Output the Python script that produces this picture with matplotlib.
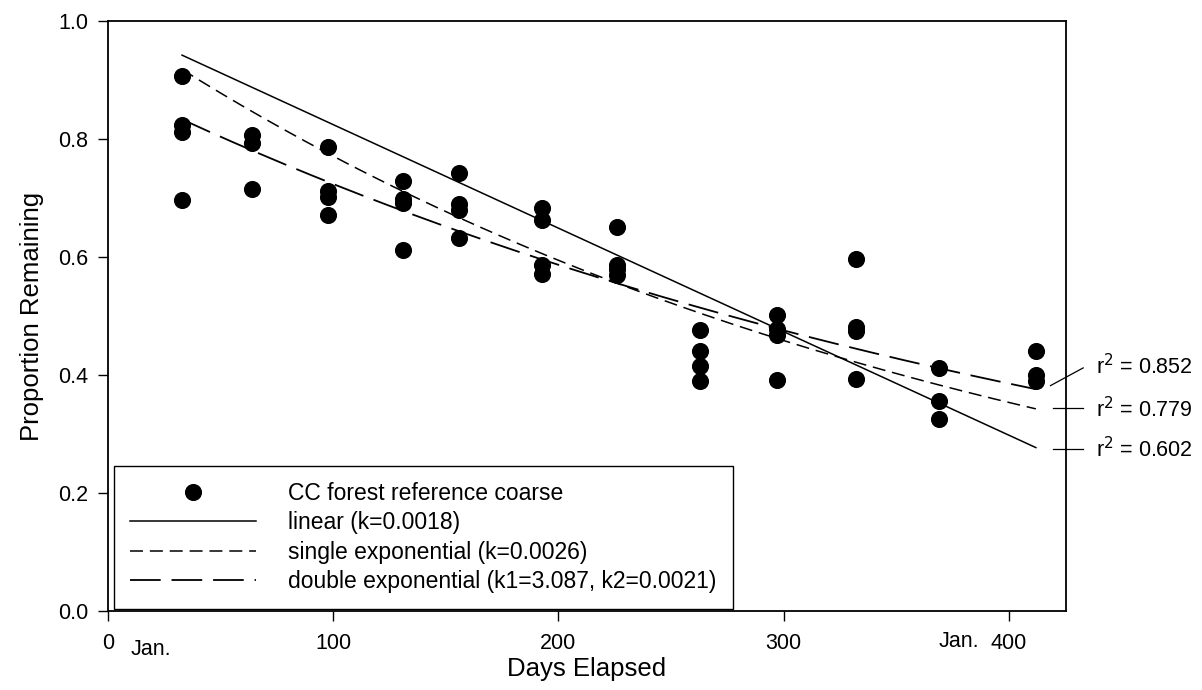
import numpy as np
import matplotlib
matplotlib.use("Agg")
import matplotlib.pyplot as plt

plt.rcParams['font.family'] = ['Liberation Sans', 'DejaVu Sans']

# ---- data ----
days = [33, 33, 33, 33,
        64, 64, 64,
        98, 98, 98, 98,
        131, 131, 131, 131,
        156, 156, 156, 156,
        193, 193, 193, 193,
        226, 226, 226, 226,
        263, 263, 263, 263,
        297, 297, 297, 297,
        332, 332, 332, 332,
        369, 369, 369,
        412, 412, 412]
remaining = [0.907, 0.824, 0.812, 0.697,
             0.807, 0.794, 0.715,
             0.787, 0.711, 0.702, 0.671,
             0.729, 0.699, 0.692, 0.612,
             0.742, 0.690, 0.680, 0.632,
             0.683, 0.662, 0.586, 0.572,
             0.651, 0.587, 0.580, 0.570,
             0.477, 0.441, 0.416, 0.389,
             0.502, 0.478, 0.468, 0.392,
             0.596, 0.482, 0.475, 0.394,
             0.411, 0.356, 0.325,
             0.441, 0.400, 0.390]

# model parameters (fits shown in legend)
k_linear = 0.001755
k_single = 0.0026
k1_double = 3.087
k2_double = 0.0021
b_double = 0.893
fit_range = [33, 412]

r2_labels = ["r$^2$ = 0.852", "r$^2$ = 0.779", "r$^2$ = 0.602"]
legend_labels = ["CC forest reference coarse",
                 "linear (k=0.0018)",
                 "single exponential (k=0.0026)",
                 "double exponential (k1=3.087, k2=0.0021)"]
xticks = [0, 100, 200, 300, 400]
yticks = [0.0, 0.2, 0.4, 0.6, 0.8, 1.0]

# ---- figure ----
fig = plt.figure(figsize=(12.02, 6.90), dpi=100)
ax = fig.add_axes([0.0896, 0.1145, 0.7973, 0.8551])

t = np.linspace(fit_range[0], fit_range[1], 200)
y_lin = 1.0 - k_linear * t
y_single = np.exp(-k_single * t)
y_double = (1 - b_double) * np.exp(-k1_double * t) + b_double * np.exp(-k2_double * t)

ms = 11.3
ax.plot(days, remaining, 'o', color='black', markersize=ms, zorder=3,
        label=legend_labels[0])
ax.plot(t, y_lin, '-', color='black', lw=1.1, label=legend_labels[1])
ax.plot(t, y_single, color='black', lw=1.1, dashes=(8.5, 4.5), label=legend_labels[2])
ax.plot(t, y_double, color='black', lw=1.3, dashes=(17, 6), label=legend_labels[3])

ax.set_xlim(0, 425.4)
ax.set_ylim(0, 1.0)
ax.set_xticks(xticks)
ax.set_xticklabels([str(v) for v in xticks])
ax.set_yticks(yticks)
ax.set_yticklabels([f"{v:.1f}" for v in yticks])
ax.tick_params(direction='out', length=7.2, width=1.0, labelsize=15.5,
               colors='black')
ax.tick_params(axis='x', pad=9)
ax.tick_params(axis='y', pad=7)
for s in ax.spines.values():
    s.set_linewidth(1.3)

ax.set_xlabel("Days Elapsed", fontsize=18.5, labelpad=2)
ax.set_ylabel("Proportion Remaining", fontsize=18.5, labelpad=10)

# month markers
tr = ax.get_xaxis_transform()
ax.text(19, -0.065, "Jan.", transform=tr, ha='center', va='center',
        fontsize=15.5, clip_on=False)
ax.text(378, -0.052, "Jan.", transform=tr, ha='center', va='center',
        fontsize=15.5, clip_on=False)

# r^2 annotations
ax.plot([418.5, 433.0], [0.382, 0.412], color='black', lw=0.9, clip_on=False)
ax.plot([419.5, 433.0], [0.344, 0.344], color='black', lw=0.9, clip_on=False)
ax.plot([419.5, 433.0], [0.275, 0.275], color='black', lw=0.9, clip_on=False)
ax.text(438.5, 0.415, r2_labels[0], fontsize=15.5, va='center', ha='left', clip_on=False)
ax.text(438.5, 0.342, r2_labels[1], fontsize=15.5, va='center', ha='left', clip_on=False)
ax.text(438.5, 0.273, r2_labels[2], fontsize=15.5, va='center', ha='left', clip_on=False)

leg = ax.legend(loc='lower left', bbox_to_anchor=(0.0066, 0.003), borderaxespad=0,
                fontsize=16.5, frameon=True, fancybox=False, edgecolor='black',
                framealpha=1, numpoints=1, handlelength=5.5, handletextpad=1.4,
                labelspacing=0.28, borderpad=0.7, markerscale=1.0)
leg.get_frame().set_linewidth(1.0)

fig.savefig("out.png", dpi=100)
